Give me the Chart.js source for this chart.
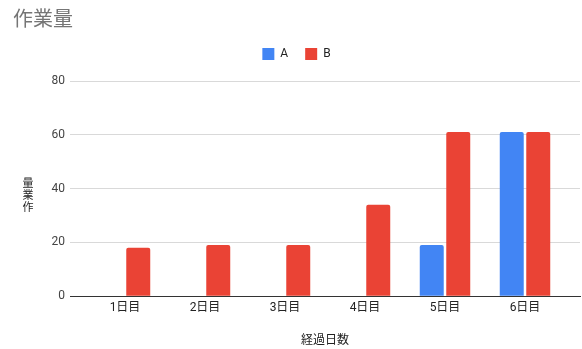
<!DOCTYPE html>
<html>
<head>
<meta charset="utf-8">
<script src="https://cdn.jsdelivr.net/npm/chart.js@4"></script>
<style>
  html, body { margin: 0; padding: 0; background: #fff; }
  #wrap { width: 582px; height: 349px; }
</style>
</head>
<body>
<div id="wrap"><canvas id="chart"></canvas></div>
<script>
const days = ['1日目', '2日目', '3日目', '4日目', '5日目', '6日目'];
const seriesA = [0, 0, 0, 0, 19, 61];
const seriesB = [18, 19, 19, 34, 61, 61];
const yTicks = [0, 20, 40, 60, 80];

const FONT = "Roboto, 'Noto Sans CJK JP', sans-serif";

// y axis title: upright characters stacked bottom-to-top
const yTitlePlugin = {
    id: 'yTitle',
    afterDraw(chart) {
        const ctx = chart.ctx;
        const chars = ['作', '業', '量'];
        const mid = (chart.chartArea.top + chart.chartArea.bottom) / 2 + 6;
        ctx.save();
        ctx.font = "11px 'Noto Sans CJK JP', sans-serif";
        ctx.fillStyle = '#222';
        ctx.textAlign = 'center';
        ctx.textBaseline = 'middle';
        chars.forEach(function(c, i) {
            ctx.fillText(c, 28, mid + 12 - i * 12);
        });
        ctx.restore();
    }
};

// leave some room between the legend and the plot
const legendGapPlugin = {
    id: 'legendGap',
    beforeLayout(chart) {
        const lg = chart.legend;
        if (lg && !lg._gapPatched) {
            const fit = lg.fit;
            lg.fit = function() {
                fit.call(this);
                this.height += 11;
            };
            lg._gapPatched = true;
        }
    }
};

const toPoints = arr => arr.map((v, i) => ({ x: i, y: v }));

new Chart(document.getElementById('chart'), {
    type: 'bar',
    data: {
        datasets: [{
            label: 'A',
            data: toPoints(seriesA),
            backgroundColor: '#4285F4',
            borderRadius: { topLeft: 2, topRight: 2 },
            borderSkipped: 'start',
            categoryPercentage: 0.6625,
            barPercentage: 0.905
        }, {
            label: 'B',
            data: toPoints(seriesB),
            backgroundColor: '#EA4335',
            borderRadius: { topLeft: 2, topRight: 2 },
            borderSkipped: 'start',
            categoryPercentage: 0.6625,
            barPercentage: 0.905
        }]
    },
    options: {
        responsive: true,
        maintainAspectRatio: false,
        animation: false,
        layout: { padding: { left: 13, right: 2, top: 0, bottom: 0 } },
        plugins: {
            title: {
                display: true,
                text: '作業量',
                align: 'start',
                color: '#757575',
                font: { family: FONT, size: 20, weight: 'normal', lineHeight: 1 },
                padding: { top: 11, bottom: 0 }
            },
            legend: {
                display: true,
                labels: {
                    boxWidth: 12,
                    boxHeight: 12,
                    color: '#222',
                    padding: 17,
                    font: { family: FONT, size: 12 }
                }
            },
            tooltip: { enabled: false }
        },
        scales: {
            x: {
                type: 'linear',
                offset: false,
                min: -0.6875,
                max: 5.6875,
                afterBuildTicks: scale => {
                    scale.ticks = days.map((_, i) => ({ value: i }));
                },
                grid: { display: false, drawTicks: false, offset: false },
                border: { display: true, color: '#333', width: 1 },
                ticks: {
                    color: '#222',
                    font: { family: FONT, size: 12 },
                    padding: 5,
                    callback: v => days[v]
                },
                title: {
                    display: true,
                    text: '経過日数',
                    color: '#222',
                    font: { family: FONT, size: 12 },
                    padding: { top: 13, bottom: 1 }
                }
            },
            y: {
                min: yTicks[0],
                max: yTicks[yTicks.length - 1],
                afterBuildTicks: scale => {
                    scale.ticks = yTicks.map(v => ({ value: v }));
                },
                afterFit: scale => { scale.width = 57; },
                grid: { color: '#d9d9d9', drawTicks: false },
                border: { display: false },
                ticks: {
                    color: '#444',
                    font: { family: FONT, size: 12 },
                    padding: 5
                }
            }
        }
    },
    plugins: [yTitlePlugin, legendGapPlugin]
});
</script>
</body>
</html>
